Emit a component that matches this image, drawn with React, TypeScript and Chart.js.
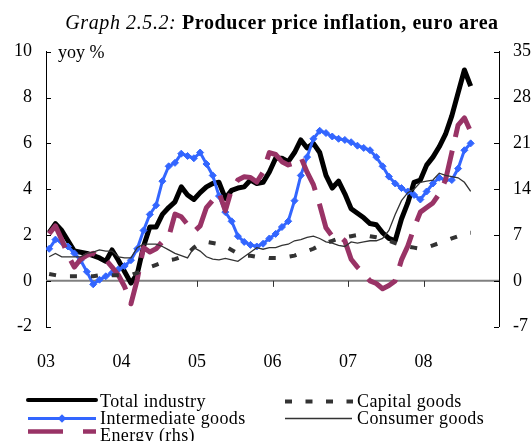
import React, { useEffect, useRef } from "react";
import { Chart, registerables } from "chart.js";

Chart.register(...registerables);

// ---- data (monthly, Jan 2003 .. Aug 2008) ----
const yearLabels = ["03", "04", "05", "06", "07", "08"];
const leftTicks = [10, 8, 6, 4, 2, 0, -2];
const rightTicks = [35, 28, 21, 14, 7, 0, -7];

const totalIndustry = [
  2.1, 2.5, 2.2, 1.75, 1.3, 1.25, 1.2, 1.1, 1.0, 0.85,
  1.35, 0.9, 0.4, -0.1, 0.3, 1.5, 2.35, 2.35, 2.9, 3.2,
  3.45, 4.1, 3.75, 3.55, 3.85, 4.1, 4.25, 4.3, 3.6, 3.95,
  4.05, 4.1, 4.4, 4.25, 4.3, 4.75, 5.35, 5.35, 5.2, 5.6,
  6.15, 5.8, 6.0, 5.6, 4.6, 4.05, 4.35, 3.8, 3.15, 2.95,
  2.75, 2.5, 2.45, 2.1, 1.85, 1.75, 2.7, 3.4, 4.3, 4.4,
  5.05, 5.4, 5.85, 6.4, 7.2, 8.2, 9.2, 8.5,
];

const intermediateGoods = [
  1.4, 1.8, 1.7, 1.5, 1.2, 0.9, 0.4, -0.15, 0.05, 0.2,
  0.35, 0.5, 0.65, 0.9, 1.4, 2.2, 2.9, 3.3, 4.35, 5.0,
  5.15, 5.55, 5.45, 5.35, 5.6, 5.1, 4.6, 3.7, 3.0, 2.6,
  1.95, 1.7, 1.57, 1.5, 1.62, 1.85, 2.05, 2.35, 2.6, 3.5,
  4.6, 5.4, 6.2, 6.55, 6.45, 6.3, 6.2, 6.15, 6.05, 5.9,
  5.8, 5.7, 5.4, 5.0, 4.55, 4.25, 4.05, 3.9, 3.75, 3.55,
  3.9, 4.25, 4.5, 4.4, 4.4, 4.9, 5.7, 6.0,
];

// right-hand scale values
const energy = [
  7.2, 8.4, 6.3, 3.9, 2.1, 3.3, 3.9, 4.2, 3.5, 3.2,
  2.1, 0.9, -0.9, -3.5, 0.2, 5.1, 4.4, 4.9, 6.0, 6.7,
  10.2, 9.8, 8.6, 7.5, 8.4, 11.2, 12.3, 13.5, 10.7, 14.0,
  15.4, 15.9, 15.8, 15.1, 16.6, 19.6, 19.3, 18.2, 17.7, 18.0,
  18.9, 16.6, 14.7, 11.6, 8.1, 6.8, 7.0, 6.1, 3.3, 2.1,
  1.1, 0.0, -0.4, -1.2, -0.7, 0.0, 3.2, 5.3, 8.1, 10.5,
  11.2, 11.9, 13.3, 15.4, 19.6, 23.8, 24.9, 22.8,
];

const capitalGoods = [
  0.3, 0.25, 0.2, 0.2, 0.2, 0.2, 0.2, 0.2, 0.25, 0.25,
  0.25, 0.25, 0.25, 0.25, 0.35, 0.45, 0.6, 0.7, 0.8, 0.9,
  0.95, 1.05, 1.2, 1.45, 1.65, 1.7, 1.65, 1.6, 1.5, 1.35,
  1.2, 1.1, 1.1, 1.05, 1.05, 1.0, 1.0, 1.0, 1.05, 1.1,
  1.2, 1.3, 1.4, 1.55, 1.65, 1.75, 1.85, 1.9, 1.95, 2.0,
  2.0, 1.95, 1.9, 1.85, 1.75, 1.65, 1.55, 1.5, 1.45, 1.4,
  1.45, 1.55, 1.65, 1.75, 1.85, 1.95, 2.1, 2.1,
];

const consumerGoods = [
  1.05, 1.2, 1.05, 1.05, 1.05, 1.05, 1.2, 1.25, 1.35, 1.3,
  1.3, 1.05, 1.0, 1.0, 1.45, 1.6, 1.6, 1.6, 1.5, 1.35,
  1.2, 1.1, 1.0, 1.45, 1.3, 1.05, 0.95, 0.92, 0.98, 0.92,
  0.85, 1.05, 1.25, 1.45, 1.38, 1.45, 1.45, 1.55, 1.6, 1.75,
  1.8, 1.9, 1.95, 1.85, 1.7, 1.65, 1.55, 1.5, 1.7, 1.65,
  1.7, 1.75, 1.75, 1.85, 2.2, 2.9, 3.5, 3.85, 4.0, 4.3,
  4.35, 4.4, 4.7, 4.6, 4.55, 4.5, 4.3, 3.9,
];

const FONT = "'Liberation Serif', 'Times New Roman', serif";
const BLUE = "#3366ff";
const MAROON = "#993366";
const DARK = "#333333";

const toXY = (arr: number[]) => arr.map((v, i) => ({ x: i, y: v }));

const axisDecor = {
  id: "axisDecor",
  beforeDatasetsDraw(chart: any) {
    const { ctx, chartArea: a, scales } = chart;
    const xs = scales.x;
    const ys = scales.y;
    const ys1 = scales.y1;
    ctx.save();
    const y0 = ys.getPixelForValue(0);
    ctx.strokeStyle = "#808080";
    ctx.lineWidth = 2;
    ctx.beginPath();
    ctx.moveTo(a.left, y0);
    ctx.lineTo(a.right, y0);
    ctx.stroke();

    ctx.lineWidth = 1;
    ctx.strokeStyle = "#333";
    ctx.beginPath();
    for (let k = 1; k < yearLabels.length; k++) {
      const px = Math.round(xs.getPixelForValue(-0.5 + 12 * k)) + 0.5;
      ctx.moveTo(px, y0);
      ctx.lineTo(px, y0 + 6);
    }
    ctx.stroke();

    ctx.strokeStyle = "#000";
    ctx.beginPath();
    leftTicks.forEach((v) => {
      const py = Math.round(ys.getPixelForValue(v)) + 0.5;
      ctx.moveTo(a.left, py);
      ctx.lineTo(a.left + 5, py);
    });
    rightTicks.forEach((v) => {
      const py = Math.round(ys1.getPixelForValue(v)) + 0.5;
      ctx.moveTo(a.right - 5, py);
      ctx.lineTo(a.right, py);
    });
    ctx.stroke();
    ctx.restore();
  },
};

function LegendSamples() {
  return (
    <svg
      width={532}
      height={441}
      style={{ position: "absolute", left: 0, top: 0, pointerEvents: "none" }}
    >
      <line x1={28} y1={400} x2={96} y2={400} stroke="#000" strokeWidth={4} strokeLinecap="round" />
      <line x1={28} y1={418.5} x2={96} y2={418.5} stroke={BLUE} strokeWidth={3} />
      <rect x={59} y={415.5} width={6} height={6} fill={BLUE} transform="rotate(45 62 418.5)" />
      <line x1={28} y1={431.5} x2={63} y2={431.5} stroke={MAROON} strokeWidth={4.5} />
      <line x1={83} y1={431.5} x2={96} y2={431.5} stroke={MAROON} strokeWidth={4.5} />
      <line x1={285} y1={401.5} x2={353} y2={401.5} stroke={DARK} strokeWidth={4} strokeDasharray="7 13.5" />
      <line x1={285} y1={418.5} x2={352} y2={418.5} stroke={DARK} strokeWidth={1.3} />
    </svg>
  );
}

export default function App() {
  const ref = useRef<HTMLCanvasElement | null>(null);

  useEffect(() => {
    if (!ref.current) return;
    const chart = new Chart(ref.current, {
      type: "line",
      data: {
        datasets: [
          {
            label: "Consumer goods",
            data: toXY(consumerGoods),
            borderColor: DARK,
            borderWidth: 1.3,
            pointRadius: 0,
            yAxisID: "y",
            order: 0,
          },
          {
            label: "Capital goods",
            data: toXY(capitalGoods),
            borderColor: DARK,
            borderWidth: 4,
            borderDash: [7, 14],
            pointRadius: 0,
            yAxisID: "y",
            order: 1,
          },
          {
            label: "Energy (rhs)",
            data: toXY(energy),
            borderColor: MAROON,
            borderWidth: 5,
            borderDash: [34, 14],
            borderJoinStyle: "round",
            pointRadius: 0,
            yAxisID: "y1",
            order: 2,
          },
          {
            label: "Intermediate goods",
            data: toXY(intermediateGoods),
            borderColor: BLUE,
            borderWidth: 3,
            pointStyle: "rectRot",
            pointRadius: 3.5,
            pointBackgroundColor: BLUE,
            pointBorderColor: BLUE,
            pointBorderWidth: 1,
            yAxisID: "y",
            order: 3,
          },
          {
            label: "Total industry",
            data: toXY(totalIndustry),
            borderColor: "#000",
            borderWidth: 5,
            borderJoinStyle: "round",
            pointRadius: 0,
            yAxisID: "y",
            order: 4,
          },
        ],
      },
      options: {
        animation: false,
        responsive: false,
        devicePixelRatio: 1,
        layout: { padding: { top: 51.7, left: 0, right: 0, bottom: 0 } },
        plugins: {
          legend: { display: false },
          tooltip: { enabled: false },
          title: { display: false },
        },
        elements: { line: { tension: 0 } },
        scales: {
          x: {
            type: "linear",
            min: -0.5,
            max: 71.5,
            grid: { display: false },
            border: { display: false },
            afterBuildTicks: (s: any) => {
              s.ticks = yearLabels.map((_, k) => ({ value: -0.5 + 12 * k }));
            },
            afterFit: (s: any) => {
              s.height = 370 - 326.7;
            },
            ticks: {
              autoSkip: false,
              maxRotation: 0,
              padding: 17,
              color: "#000",
              font: { family: FONT, size: 18 },
              callback: (v: any) => yearLabels[Math.round((Number(v) + 0.5) / 12)] ?? "",
            },
          },
          y: {
            position: "left",
            min: -2,
            max: 10,
            grid: { display: false, drawTicks: false },
            border: { display: true, color: "#000", width: 1 },
            afterBuildTicks: (s: any) => {
              s.ticks = leftTicks.map((v) => ({ value: v }));
            },
            afterFit: (s: any) => {
              s.width = 46;
            },
            ticks: {
              padding: 14,
              color: "#000",
              font: { family: FONT, size: 18 },
            },
          },
          y1: {
            position: "right",
            min: -7,
            max: 35,
            grid: { display: false, drawTicks: false },
            border: { display: true, color: "#000", width: 1 },
            afterBuildTicks: (s: any) => {
              s.ticks = rightTicks.map((v) => ({ value: v }));
            },
            afterFit: (s: any) => {
              s.width = 33;
            },
            ticks: {
              padding: 14,
              color: "#000",
              font: { family: FONT, size: 18 },
            },
          },
        },
      },
      plugins: [axisDecor],
    } as any);
    return () => chart.destroy();
  }, []);

  const textStyle: React.CSSProperties = {
    position: "absolute",
    fontFamily: FONT,
    fontSize: 18,
    lineHeight: "18px",
    color: "#000",
    whiteSpace: "nowrap",
    letterSpacing: 0.4,
  };

  return (
    <div
      style={{
        position: "fixed",
        left: 0,
        top: 0,
        width: 532,
        height: 441,
        background: "#fff",
        overflow: "hidden",
      }}
    >
      <canvas
        ref={ref}
        width={532}
        height={370}
        style={{ position: "absolute", left: 0, top: 0, width: 532, height: 370 }}
      />
      <div
        style={{
          position: "absolute",
          left: 0,
          top: 11.5,
          width: 564,
          textAlign: "center",
          fontFamily: FONT,
          fontSize: 20,
          lineHeight: "20px",
          whiteSpace: "nowrap",
          letterSpacing: 0.6,
          color: "#000",
        }}
      >
        <span style={{ fontStyle: "italic" }}>Graph 2.5.2:</span>{" "}
        <span style={{ fontWeight: "bold" }}>Producer price inflation, euro area</span>
      </div>
      <div style={{ ...textStyle, left: 58, top: 43, letterSpacing: 0 }}>yoy %</div>
      <LegendSamples />
      <div style={{ ...textStyle, left: 100, top: 392.2 }}>Total industry</div>
      <div style={{ ...textStyle, left: 100, top: 408.9 }}>Intermediate goods</div>
      <div style={{ ...textStyle, left: 100, top: 425.5 }}>Energy (rhs)</div>
      <div style={{ ...textStyle, left: 357, top: 392.2 }}>Capital goods</div>
      <div style={{ ...textStyle, left: 357, top: 408.9 }}>Consumer goods</div>
    </div>
  );
}
